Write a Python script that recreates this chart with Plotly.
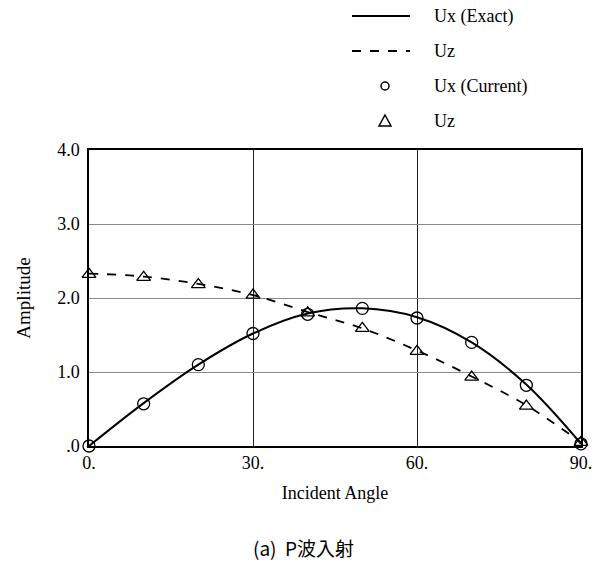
import plotly.graph_objects as go

# Data
angles = [0, 10, 20, 30, 40, 50, 60, 70, 80, 90]
ux_exact = [0.0, 0.58, 1.10, 1.52, 1.79, 1.86, 1.74, 1.40, 0.83, 0.03]
uz_exact = [2.33, 2.29, 2.19, 2.04, 1.81, 1.59, 1.29, 0.94, 0.55, 0.05]
ux_current = [0.0, 0.57, 1.10, 1.52, 1.78, 1.86, 1.73, 1.40, 0.82, 0.03]
uz_current = [2.32, 2.28, 2.18, 2.04, 1.80, 1.59, 1.28, 0.93, 0.54, 0.05]

x_tickvals = [0, 30, 60, 90]
x_ticktext = ["0.", "30.", "60.", "90."]
y_tickvals = [0, 1, 2, 3, 4]
y_ticktext = [".0", "1.0", "2.0", "3.0", "4.0"]

names = ["Ux (Exact)", "Uz", "Ux (Current)", "Uz"]

SERIF = "Liberation Serif, Times New Roman, serif"
FS = 18

# plot area in pixels: left 89, right 581, top 150, bottom 446
L, R, T, B = 89, 581, 150, 446
def px(xp):
    return (xp - L) / (R - L)
def py(yp):
    return (B - yp) / (B - T)

fig = go.Figure()
fig.add_trace(go.Scatter(x=angles, y=ux_exact, mode="lines", name=names[0],
                         line=dict(color="black", width=2, shape="spline"),
                         showlegend=False))
fig.add_trace(go.Scatter(x=angles, y=uz_exact, mode="lines", name=names[1],
                         line=dict(color="black", width=1.8, dash="dash", shape="spline"),
                         showlegend=False))
fig.add_trace(go.Scatter(x=angles, y=ux_current, mode="markers", name=names[2],
                         marker=dict(symbol="circle-open", size=12, color="black",
                                     line=dict(width=1.3)),
                         showlegend=False, cliponaxis=False))
fig.add_trace(go.Scatter(x=angles, y=uz_current, mode="markers", name=names[3],
                         marker=dict(symbol="triangle-up-open", size=12, color="black",
                                     line=dict(width=1.3)),
                         showlegend=False, cliponaxis=False))

fig.update_layout(
    width=604, height=562,
    margin=dict(l=L, r=604 - R, t=T, b=562 - B),
    paper_bgcolor="white", plot_bgcolor="white",
    font=dict(family=SERIF, size=FS, color="black"),
    showlegend=False,
    xaxis=dict(range=[0, 90], tickvals=x_tickvals, ticktext=x_ticktext,
               showgrid=True, gridcolor="#222222", gridwidth=1,
               showline=True, linecolor="black", linewidth=1.5, mirror=True,
               ticks="", zeroline=False, automargin=False,
               tickfont=dict(family=SERIF, size=FS),
               title=dict(text="Incident Angle", standoff=14,
                          font=dict(family=SERIF, size=FS))),
    yaxis=dict(range=[0, 4], tickvals=y_tickvals, ticktext=y_ticktext,
               showgrid=True, gridcolor="#8a8a8a", gridwidth=1,
               showline=True, linecolor="black", linewidth=1.5, mirror=True,
               ticks="", zeroline=False, automargin=False,
               ticklabelstandoff=4,
               tickfont=dict(family=SERIF, size=FS),
               title=dict(text="Amplitude", standoff=22,
                          font=dict(family=SERIF, size=19))),
)

# Manual legend (positions in pixels converted to paper coordinates)
rows = [16, 51, 86, 121]
line_x0, line_x1, mark_x, text_x = 352, 410, 385, 432
fig.add_shape(type="line", xref="paper", yref="paper",
              x0=px(line_x0), x1=px(line_x1), y0=py(rows[0]), y1=py(rows[0]),
              line=dict(color="black", width=2))
fig.add_shape(type="line", xref="paper", yref="paper",
              x0=px(line_x0), x1=px(line_x1), y0=py(rows[1]), y1=py(rows[1]),
              line=dict(color="black", width=1.8, dash="dash"))
fig.add_shape(type="circle", xref="paper", yref="paper",
              xsizemode="pixel", ysizemode="pixel",
              xanchor=px(mark_x), yanchor=py(rows[2]),
              x0=-4, x1=4, y0=-4, y1=4,
              line=dict(color="black", width=1.5))
fig.add_shape(type="path", xref="paper", yref="paper",
              xsizemode="pixel", ysizemode="pixel",
              xanchor=px(mark_x), yanchor=py(rows[3]),
              path="M -6 -5 L 6 -5 L 0 6 Z",
              line=dict(color="black", width=1.5))
for r, n in zip(rows, names):
    fig.add_annotation(text=n, x=px(text_x), y=py(r), xref="paper", yref="paper",
                       xanchor="left", yanchor="middle", showarrow=False,
                       font=dict(family=SERIF, size=FS, color="black"))

fig.add_annotation(text="(a)  P波入射", x=px(303), y=py(547), xref="paper", yref="paper",
                   xanchor="center", yanchor="middle", showarrow=False,
                   font=dict(family="Noto Sans CJK JP", size=19, color="black"))

fig.write_html("out.html")
